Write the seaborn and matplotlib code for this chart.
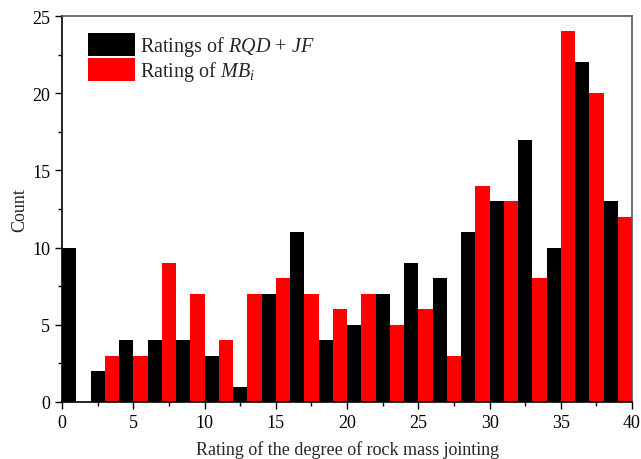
import numpy as np
import pandas as pd
import matplotlib
matplotlib.use("Agg")
import matplotlib.pyplot as plt
from matplotlib.ticker import MultipleLocator
from matplotlib.patches import Patch
import seaborn as sns

# Rating-class left edges and counts for each scheme
rqd_jf_left = [0, 2, 4, 6, 8, 10, 12, 14, 16, 18, 20, 22, 24, 26, 28, 30, 32, 34, 36, 38]
rqd_jf_count = [10, 2, 4, 4, 4, 3, 1, 7, 11, 4, 5, 7, 9, 8, 11, 13, 17, 10, 22, 13]
mbi_left = [1, 3, 5, 7, 9, 11, 13, 15, 17, 19, 21, 23, 25, 27, 29, 31, 33, 35, 37, 39]
mbi_count = [0, 3, 3, 9, 7, 4, 7, 8, 7, 6, 7, 5, 6, 3, 14, 13, 8, 24, 20, 12]

label_rqd = "Ratings of $RQD$ + $JF$"
label_mbi = "Rating of $MB_i$"

sns.set_theme(style="ticks")
plt.rcParams["font.family"] = ["Liberation Serif", "DejaVu Serif"]
plt.rcParams["mathtext.fontset"] = "custom"
plt.rcParams["mathtext.rm"] = "Liberation Serif"
plt.rcParams["mathtext.it"] = "Liberation Serif:italic"

df = pd.concat([
    pd.DataFrame({"rating": np.array(rqd_jf_left) + 0.5, "count": rqd_jf_count, "series": label_rqd}),
    pd.DataFrame({"rating": np.array(mbi_left) + 0.5, "count": mbi_count, "series": label_mbi}),
], ignore_index=True)

fig = plt.figure(figsize=(6.41, 4.60), dpi=100)
ax = fig.add_axes([0.097, 0.124, 0.889, 0.839])

palette = {label_rqd: "#000000", label_mbi: "#ff0000"}
sns.histplot(data=df, x="rating", weights="count", hue="series", binwidth=1, binrange=(0, 40),
             multiple="layer", palette=palette, alpha=1, linewidth=0,
             legend=False, ax=ax)

ax.set_xlim(0, 40)
ax.set_ylim(0, 25)
ax.xaxis.set_major_locator(MultipleLocator(5))
ax.xaxis.set_minor_locator(MultipleLocator(2.5))
ax.yaxis.set_major_locator(MultipleLocator(5))
ax.yaxis.set_minor_locator(MultipleLocator(2.5))
ax.tick_params(which="major", direction="out", length=5, width=1, labelsize=13, colors="black")
ax.tick_params(which="minor", direction="out", length=3, width=1, colors="black")
ax.set_xlabel("Rating of the degree of rock mass jointing", fontsize=13, labelpad=7)
ax.set_ylabel("Count", fontsize=13, labelpad=3)

for side in ["left", "bottom"]:
    ax.spines[side].set_color("black")
    ax.spines[side].set_linewidth(1.2)
for side in ["top", "right"]:
    ax.spines[side].set_visible(True)
    ax.spines[side].set_color("#555555")
    ax.spines[side].set_linewidth(1.2)

handles = [Patch(facecolor="#000000", edgecolor="none", label=label_rqd),
           Patch(facecolor="#ff0000", edgecolor="none", label=label_mbi)]
ax.legend(handles=handles, loc="upper left", frameon=False, fontsize=14.5,
          handlelength=2.35, handleheight=1.35, labelspacing=0.0, handletextpad=0.25,
          borderaxespad=0, borderpad=0, bbox_to_anchor=(0.045, 0.955))

fig.savefig("out.png", dpi=100)
